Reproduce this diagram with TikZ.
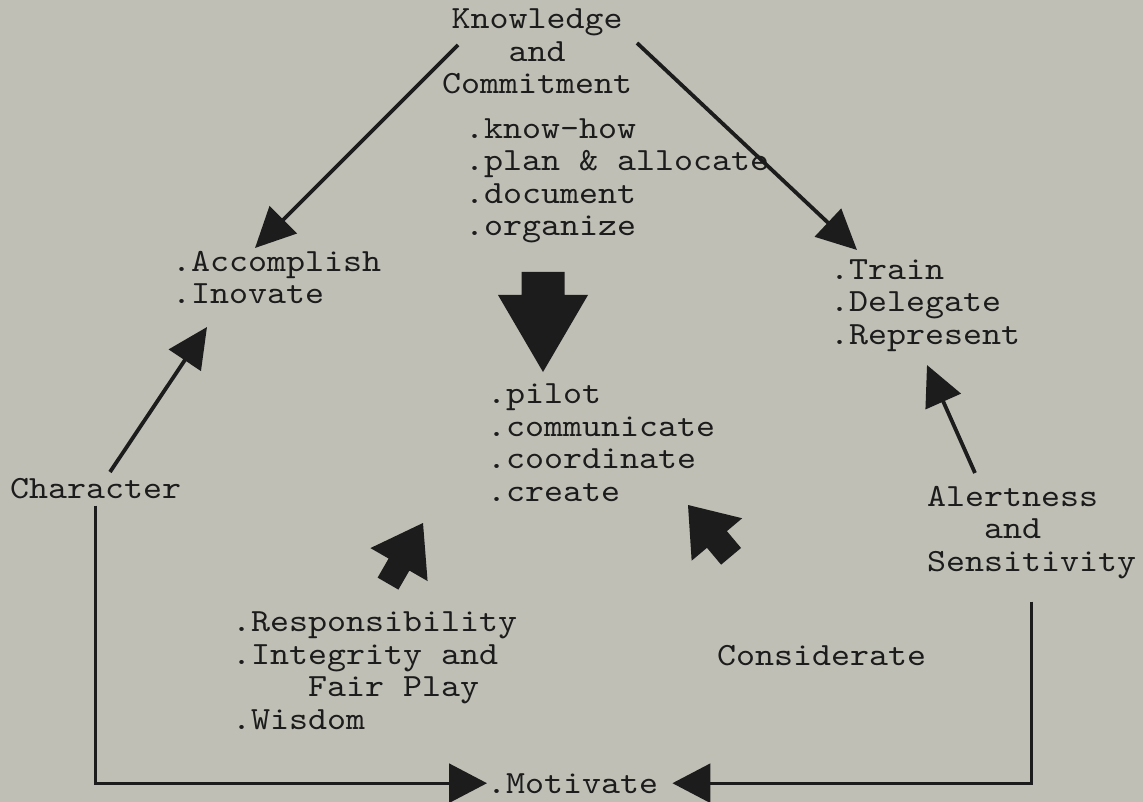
\documentclass[tikz,border=0pt]{standalone}
\usepackage{fontspec}
\setmonofont{lmmono10-regular}[Extension=.otf, FakeStretch=1.117]
\usepackage{xcolor}
\usepackage{tikz}
\usetikzlibrary{arrows.meta}

\definecolor{paper}{RGB}{192,191,182}
\definecolor{ink}{RGB}{28,28,28}

\tikzset{
  txt/.style={font=\ttfamily\fontsize{32.4}{32.5}\selectfont,
    text=ink, inner sep=0pt, align=left, anchor=base west},
  thinarrow/.style={draw=ink, line width=3.8pt, -{Triangle[length=40pt,width=38pt]}},
  flow/.style={draw=ink, line width=3pt, -{Triangle[length=38pt,width=39pt]}},
}

% tip, angle, shaft length, shaft half width, head length, head half width
\newcommand{\blockarrow}[6]{%
  \fill[ink, shift={#1}, rotate=#2] (0,0) -- (-#5,#6) -- (-#5,#4) -- ({-#5-#3},#4)
    -- ({-#5-#3},-#4) -- (-#5,-#4) -- (-#5,-#6) -- cycle;}

\begin{document}
\begin{tikzpicture}[x=1pt,y=-1pt]
\fill[paper] (0,0) rectangle (1143,802);
\useasboundingbox (0,0) rectangle (1143,802);

    % base of a node with several lines = baseline of its last line
    \node[txt, align=center, anchor=base] (kc) at (537,94) {Knowledge\\and\\Commitment};
    \node[txt] (plan) at (465,236) {.know-how\\.plan \& allocate\\.document\\.organize};
    \node[txt] (acc) at (172,304) {.Accomplish\\.Inovate};
    \node[txt] (del) at (830,344) {.Train\\.Delegate\\.Represent};
    \node[txt] (pilot) at (487,501) {.pilot\\.communicate\\.coordinate\\.create};
    \node[txt] (chr) at (10,498) {Character};
    \node[txt] (alert) at (927,571) {Alertness\\\phantom{Ale}and\\Sensitivity};
    \node[txt] (resp) at (232,729) {.Responsibility\\.Integrity and\\\phantom{.Int}Fair Play\\.Wisdom};
    \node[txt] (cons) at (717,665) {Considerate};
    \node[txt] (mot) at (487,793) {.Motivate};

    % arrow ends
    \coordinate (kcL) at (458,45);
    \coordinate (accT) at (255,248);
    \coordinate (kcR) at (637,43);
    \coordinate (delT) at (857,250);
    \coordinate (chrT) at (110,472);
    \coordinate (accB) at (207,327);
    \coordinate (alT) at (975,473);
    \coordinate (delB) at (927,365);

    % draw the arrows
    \draw[thinarrow] (kcL) -- (accT);
    \draw[thinarrow] (kcR) -- (delT);
    \draw[thinarrow] (chrT) -- (accB);
    \draw[thinarrow] (alT) -- (delB);

    \draw[flow, shorten <=7pt] (chr.south) |- (mot.west);
    \draw[flow, shorten <=23pt, shorten >=14pt] (alert.south) |- (mot.east);

    % block arrows
    \blockarrow{(543,372)}{-90}{23}{21.5}{77}{45}
    \blockarrow{(423,523)}{60}{22}{12}{48}{33}
    \blockarrow{(688,505)}{130}{22}{13}{45}{33}

\end{tikzpicture}
\end{document}
